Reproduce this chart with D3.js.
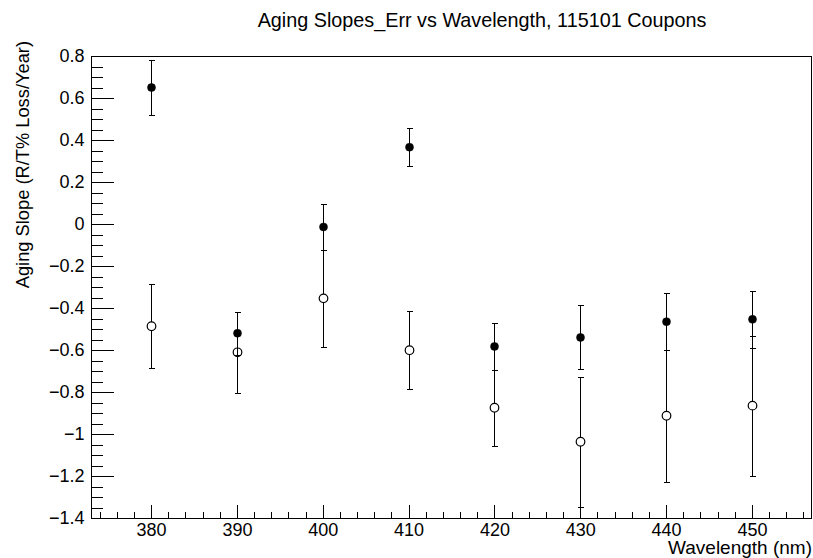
<!DOCTYPE html>
<html>
<head>
<meta charset="utf-8">
<script src="https://cdn.jsdelivr.net/npm/d3@7"></script>
<style>
  body { margin: 0; background: #fff; }
  svg { display: block; font-family: "Liberation Sans", Arial, Helvetica, sans-serif; }
</style>
</head>
<body>
<div id="chart"></div>
<script>
'use strict'

// wavelengths (nm)
var wavelengths = [380, 390, 400, 410, 420, 430, 440, 450]

// filled markers
var filledVals = [0.65, -0.52, -0.014, 0.366, -0.583, -0.54, -0.465, -0.454]
var filledErrs = [0.13, 0.103, 0.11, 0.09, 0.11, 0.152, 0.135, 0.135]

// open markers
var openVals = [-0.487, -0.611, -0.354, -0.601, -0.875, -1.037, -0.913, -0.865]
var openErrs = [0.2, 0.193, 0.23, 0.186, 0.18, 0.31, 0.315, 0.333]

var xTicks = [380, 390, 400, 410, 420, 430, 440, 450]
var yTicks = [-1.4, -1.2, -1, -0.8, -0.6, -0.4, -0.2, 0, 0.2, 0.4, 0.6, 0.8]

var W = 813, H = 558
var frame = {left : 91, right : 812, top : 56, bottom : 518}

var svg = d3.select("#chart").append("svg")
	.attr("width", W)
	.attr("height", H)

var x = d3.scaleLinear().domain([373, 457]).range([frame.left, frame.right])
var y = d3.scaleLinear().domain([-1.4, 0.8]).range([frame.bottom, frame.top])

function fmt(d){
	var s = Math.abs(d) < 1e-9 ? "0" : (Number.isInteger(d) ? String(d) : d.toFixed(1))
	return s.replace("-", "\u2212")
}

// title
svg.append("text")
	.attr("x", 482)
	.attr("y", 27)
	.attr("text-anchor", "middle")
	.style("font-size", "19.8px")
	.text("Aging Slopes_Err vs Wavelength, 115101 Coupons")

// frame
svg.append("rect")
	.attr("x", frame.left + 0.5)
	.attr("y", frame.top + 0.5)
	.attr("width", frame.right - frame.left - 1)
	.attr("height", frame.bottom - frame.top)
	.attr("fill", "none")
	.attr("stroke", "#000")
	.attr("stroke-width", 1)

// y axis, major + minor ticks pointing inwards
var yMinor = d3.range(-1.4, 0.8001, 0.05).map(function(d){ return Math.round(d * 100) / 100 })
svg.append("g")
	.attr("transform", "translate(" + (frame.left + 0.5) + ",0)")
	.call(d3.axisLeft(y).tickValues(yMinor).tickSize(-11).tickFormat(""))
	.call(function(g){ g.select(".domain").remove() })

var yAx = svg.append("g")
	.attr("transform", "translate(" + (frame.left + 0.5) + ",0)")
	.call(d3.axisLeft(y).tickValues(yTicks).tickSize(-22).tickPadding(7).tickFormat(fmt))
yAx.select(".domain").remove()
yAx.selectAll("text").style("font-size", "18px").attr("fill", "#000")

// x axis
var xMinor = d3.range(374, 457, 2)
svg.append("g")
	.attr("transform", "translate(0," + (frame.bottom + 0.5) + ")")
	.call(d3.axisBottom(x).tickValues(xMinor).tickSize(-7).tickFormat(""))
	.call(function(g){ g.select(".domain").remove() })

var xAx = svg.append("g")
	.attr("transform", "translate(0," + (frame.bottom + 0.5) + ")")
	.call(d3.axisBottom(x).tickValues(xTicks).tickSize(-14).tickPadding(4.5).tickFormat(fmt))
xAx.select(".domain").remove()
xAx.selectAll("text").style("font-size", "18px").attr("fill", "#000")

svg.selectAll(".tick line").attr("stroke", "#000").attr("shape-rendering", "crispEdges")

// axis titles
svg.append("text")
	.attr("x", 812)
	.attr("y", 554)
	.attr("text-anchor", "end")
	.style("font-size", "19px")
	.text("Wavelength (nm)")

svg.append("text")
	.attr("transform", "translate(29,41) rotate(-90)")
	.attr("text-anchor", "end")
	.style("font-size", "18.3px")
	.text("Aging Slope (R/T% Loss/Year)")

function drawSeries(vals, errs, filled){
	var pts = wavelengths.map(function(w, i){
		return {x : w, v : vals[i], e : errs[i]}
	})
	var g = svg.append("g")

	var eb = g.selectAll(".eb").data(pts).enter().append("g")
		.attr("shape-rendering", "crispEdges")
		.attr("stroke", "#000")
		.attr("stroke-width", 1)
	eb.append("line")
		.attr("x1", function(d){ return Math.round(x(d.x)) + 0.5 })
		.attr("x2", function(d){ return Math.round(x(d.x)) + 0.5 })
		.attr("y1", function(d){ return y(d.v + d.e) })
		.attr("y2", function(d){ return y(d.v - d.e) })
	eb.append("line")
		.attr("x1", function(d){ return Math.round(x(d.x)) - 2.5 })
		.attr("x2", function(d){ return Math.round(x(d.x)) + 3.5 })
		.attr("y1", function(d){ return Math.round(y(d.v + d.e)) + 0.5 })
		.attr("y2", function(d){ return Math.round(y(d.v + d.e)) + 0.5 })
	eb.append("line")
		.attr("x1", function(d){ return Math.round(x(d.x)) - 2.5 })
		.attr("x2", function(d){ return Math.round(x(d.x)) + 3.5 })
		.attr("y1", function(d){ return Math.round(y(d.v - d.e)) + 0.5 })
		.attr("y2", function(d){ return Math.round(y(d.v - d.e)) + 0.5 })

	g.selectAll(".pt").data(pts).enter().append("circle")
		.attr("cx", function(d){ return Math.round(x(d.x)) + 0.5 })
		.attr("cy", function(d){ return y(d.v) })
		.attr("r", filled ? 4 : 4.3)
		.attr("fill", filled ? "#000" : "#fff")
		.attr("stroke", "#000")
		.attr("stroke-width", filled ? 0.5 : 1.2)
}

drawSeries(openVals, openErrs, false)
drawSeries(filledVals, filledErrs, true)
</script>
</body>
</html>
